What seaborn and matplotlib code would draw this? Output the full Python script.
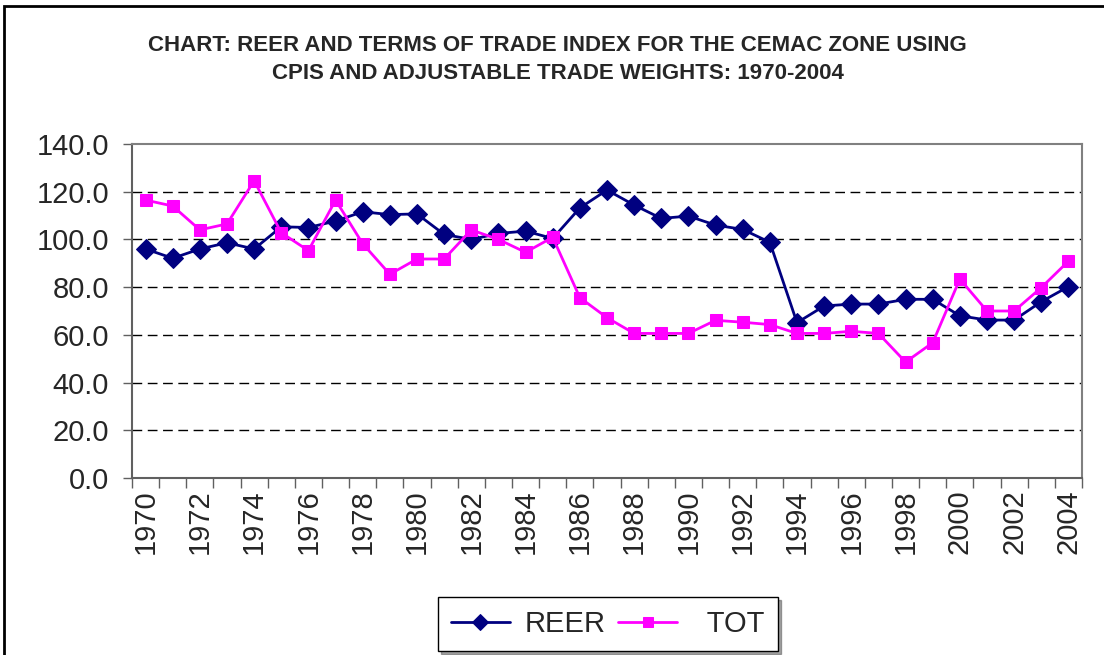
import numpy as np
import pandas as pd
import seaborn as sns
import matplotlib.pyplot as plt
from matplotlib.patches import Rectangle
from matplotlib.ticker import FixedLocator, FuncFormatter

# Data
years = list(range(1970, 2005))
reer = [96.0, 92.1, 96.0, 98.6, 96.0, 105.3, 105.0, 107.7, 111.6, 110.4,
        110.7, 102.1, 100.0, 102.5, 103.5, 100.4, 113.2, 120.7, 114.4, 108.8,
        109.8, 106.0, 104.2, 98.8, 65.1, 72.1, 72.9, 72.9, 74.9, 74.9,
        68.0, 66.2, 66.2, 73.9, 80.2]
tot = [116.5, 114.0, 104.0, 106.5, 124.6, 102.8, 95.3, 116.5, 98.2, 85.4,
       91.8, 91.8, 104.0, 100.0, 94.6, 100.9, 75.6, 67.2, 60.6, 60.6,
       60.6, 66.1, 65.3, 64.3, 60.6, 60.6, 61.5, 60.6, 48.6, 56.7,
       83.4, 70.0, 70.0, 79.8, 90.9]
title = ("CHART: REER AND TERMS OF TRADE INDEX FOR THE CEMAC ZONE USING\n"
         "CPIS AND ADJUSTABLE TRADE WEIGHTS: 1970-2004")

df = pd.DataFrame({"Year": years, "REER": reer, "TOT": tot})

sns.set_style("white")
plt.rcParams["font.family"] = ["Liberation Sans", "DejaVu Sans"]

fig = plt.figure(figsize=(11.04, 6.55), dpi=100)
ax = fig.add_axes([132 / 1104, 1 - 478 / 655, 950 / 1104, 334 / 655])

sns.lineplot(data=df, x="Year", y="REER", ax=ax, color="#000080", marker="D",
             markersize=10, markeredgecolor="#000080", linewidth=2, label="REER")
sns.lineplot(data=df, x="Year", y="TOT", ax=ax, color="#FF00FF", marker="s",
             markersize=9, markeredgecolor="#FF00FF", linewidth=2, label="  TOT")

ax.set_xlim(1969.5, 2004.5)
ax.set_ylim(0, 140)
ax.set_xlabel("")
ax.set_ylabel("")

# y axis
ax.set_yticks(np.arange(0, 141, 20))
ax.yaxis.set_major_formatter(FuncFormatter(lambda v, p: f"{v:.1f}"))
ax.tick_params(axis="y", labelsize=21, length=6.5, width=1, color="#606060",
               direction="out", left=True, pad=10)
for v in range(20, 140, 20):
    ax.axhline(v, color="black", linewidth=1, linestyle=(0, (7, 4)), zorder=0)

# x axis: labels on category centres, tick marks on boundaries
ax.xaxis.set_major_locator(FixedLocator(years))
ax.set_xticklabels([str(y) if y % 2 == 0 else "" for y in years],
                   rotation=90, fontsize=21)
ax.tick_params(axis="x", which="major", length=0, pad=8, bottom=True)
ax.xaxis.set_minor_locator(FixedLocator(np.arange(1969.5, 2005, 1)))
ax.tick_params(axis="x", which="minor", length=7, width=1, color="#606060",
               direction="out", bottom=True)

for side in ["top", "right"]:
    ax.spines[side].set_color("#808080")
    ax.spines[side].set_linewidth(1.5)
for side in ["left", "bottom"]:
    ax.spines[side].set_color("#606060")
    ax.spines[side].set_linewidth(1.5)

fig.text(0.505, 0.909, title, ha="center", va="center", fontsize=16,
         fontweight="bold", linespacing=1.45)

handles, labels = ax.get_legend_handles_labels()
ax.get_legend().remove()
leg = fig.legend(handles, labels, loc="center", bbox_to_anchor=(0.5507, 0.047),
                 ncol=2, fontsize=21, frameon=True, fancybox=False, shadow=True,
                 handlelength=2.0, columnspacing=0.45, handletextpad=0.5,
                 borderpad=0.45, markerscale=0.8)
leg.get_frame().set_edgecolor("black")
leg.get_frame().set_linewidth(1)

# outer chart border (only top and left visible in the crop)
fig.patches.append(Rectangle((4 / 1104, -0.1), 1.2, 1.1 - 6 / 655,
                             transform=fig.transFigure, fill=False,
                             edgecolor="black", linewidth=2))

fig.savefig("out.png", dpi=100)
